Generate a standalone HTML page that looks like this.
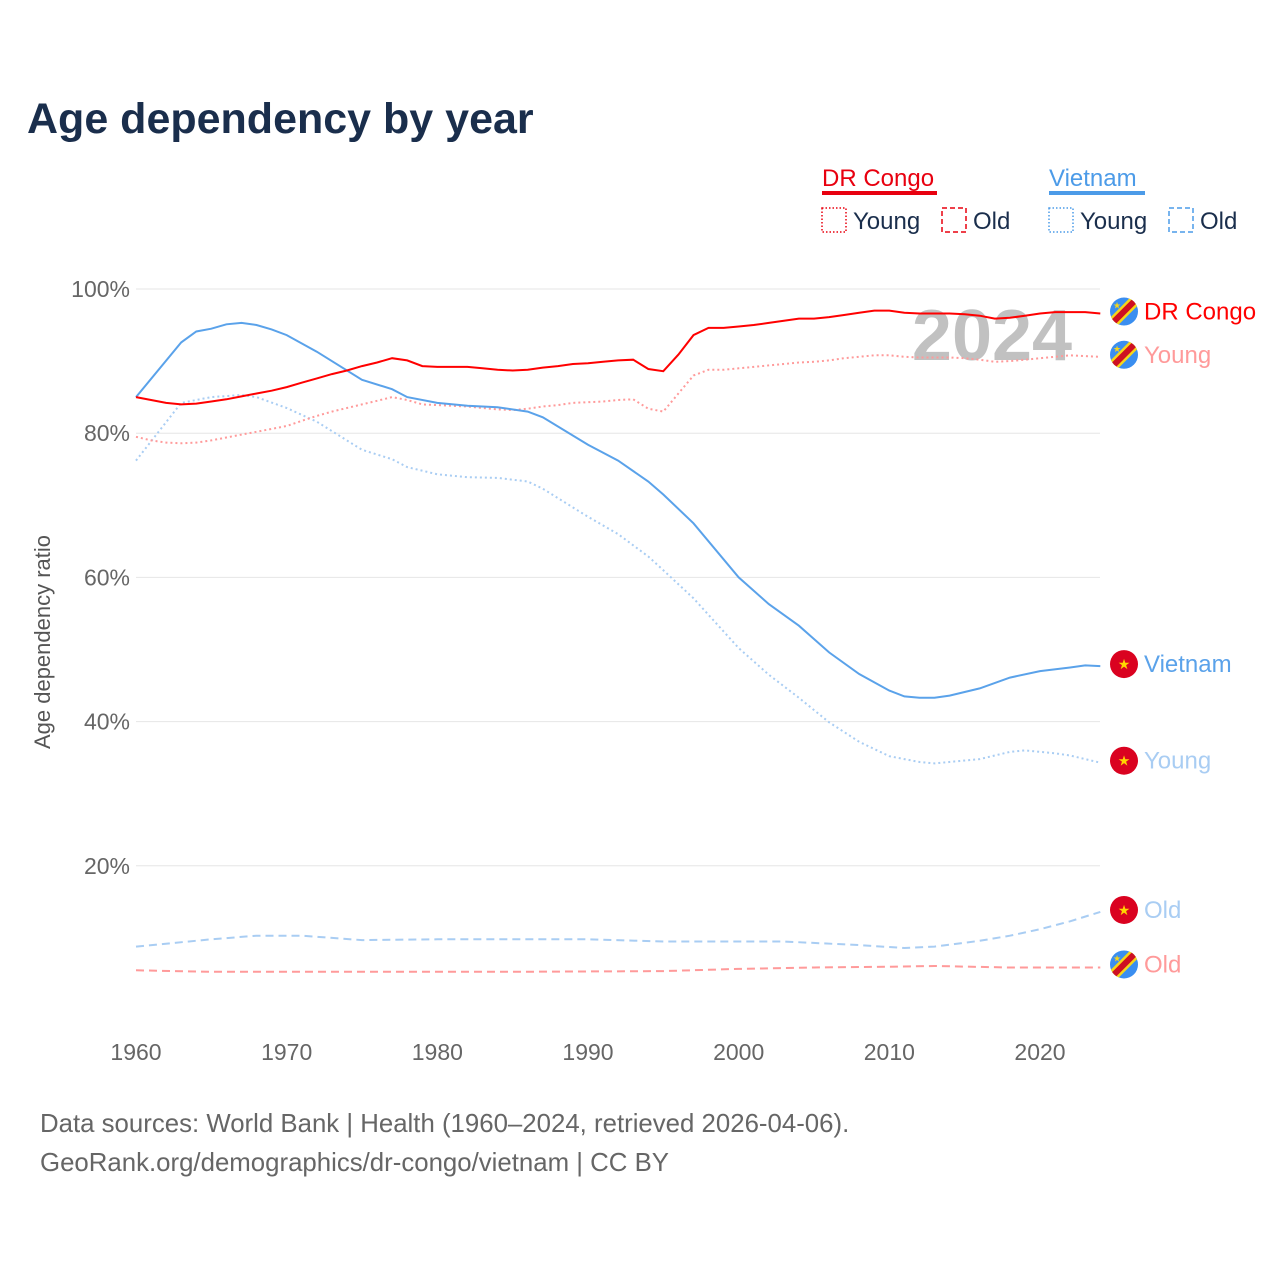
<!DOCTYPE html>
<html><head><meta charset="utf-8"><style>
body{margin:0;background:#fff;}
svg text{font-family:"Liberation Sans",sans-serif;}
</style></head><body>
<svg width="1280" height="1280" viewBox="0 0 1280 1280" xmlns="http://www.w3.org/2000/svg">
<defs>
<clipPath id="cc"><circle cx="0" cy="0" r="14"/></clipPath>
<g id="cdflag">
<g clip-path="url(#cc)">
<rect x="-15" y="-15" width="30" height="30" fill="#3a8ef0"/>
<line x1="-16" y1="16" x2="16" y2="-16" stroke="#f7d618" stroke-width="11"/>
<line x1="-16" y1="16" x2="16" y2="-16" stroke="#ce1021" stroke-width="6"/>
<text x="-7" y="-3" font-size="9" fill="#f7d618" text-anchor="middle">★</text>
</g></g>
<g id="vnflag"><circle r="14" fill="#da0220"/><text x="0" y="5" font-size="14" fill="#ffd500" text-anchor="middle">★</text></g>
</defs>
<text x="27" y="133" font-size="43" font-weight="bold" fill="#1a2e4c">Age dependency by year</text>

<g>
<text x="822" y="186" font-size="24" fill="#e8000f">DR Congo</text>
<rect x="822" y="191" width="115" height="4" fill="#e8000f"/>
<text x="1049" y="186" font-size="24" fill="#4c9be8">Vietnam</text>
<rect x="1049" y="191" width="96" height="4" fill="#4c9be8"/>
<rect x="822" y="208" width="24" height="24" fill="none" stroke="#e8000f" stroke-width="1.5" stroke-dasharray="1.5,2"/>
<text x="853" y="229" font-size="24" fill="#1a2e4c">Young</text>
<rect x="942" y="208" width="24" height="24" fill="none" stroke="#e8000f" stroke-width="1.5" stroke-dasharray="5,3"/>
<text x="973" y="229" font-size="24" fill="#1a2e4c">Old</text>
<rect x="1049" y="208" width="24" height="24" fill="none" stroke="#4c9be8" stroke-width="1.5" stroke-dasharray="1.5,2"/>
<text x="1080" y="229" font-size="24" fill="#1a2e4c">Young</text>
<rect x="1169" y="208" width="24" height="24" fill="none" stroke="#4c9be8" stroke-width="1.5" stroke-dasharray="5,3"/>
<text x="1200" y="229" font-size="24" fill="#1a2e4c">Old</text>
</g>

<g id="grid"></g>
<g id="yticks"></g>
<g id="xticks"></g>
<text transform="translate(50,642) rotate(-90)" font-size="22" fill="#555" text-anchor="middle">Age dependency ratio</text>
<text x="992" y="360" font-size="72" font-weight="bold" fill="#bbb" text-anchor="middle" opacity="0.9">2024</text>
<g id="series"></g>
<g id="labels"></g>

<text x="40" y="1132" font-size="25.8" fill="#666">Data sources: World Bank | Health (1960–2024, retrieved 2026-04-06).</text>
<text x="40" y="1171" font-size="25.8" fill="#666">GeoRank.org/demographics/dr-congo/vietnam | CC BY</text>
</svg>
<script>
const yTickValues=[20,40,60,80,100];
const yTickLabels=["20%","40%","60%","80%","100%"];
const xTickValues=[1960,1970,1980,1990,2000,2010,2020];
const drcYears=[1960,1961,1962,1963,1964,1965,1966,1967,1968,1969,1970,1971,1972,1973,1974,1975,1976,1977,1978,1979,1980,1981,1982,1983,1984,1985,1986,1987,1988,1989,1990,1991,1992,1993,1994,1995,1996,1997,1998,1999,2000,2001,2002,2003,2004,2005,2006,2007,2008,2009,2010,2011,2012,2013,2014,2015,2016,2017,2018,2019,2020,2021,2022,2023,2024];
const drcTotal=[85.0,84.6,84.2,84.0,84.1,84.4,84.7,85.1,85.5,85.9,86.4,87.0,87.6,88.2,88.7,89.3,89.8,90.4,90.1,89.3,89.2,89.2,89.2,89.0,88.8,88.7,88.8,89.1,89.3,89.6,89.7,89.9,90.1,90.2,88.9,88.6,90.9,93.6,94.6,94.6,94.8,95.0,95.3,95.6,95.9,95.9,96.1,96.4,96.7,97.0,97.0,96.7,96.6,96.6,96.6,96.5,96.3,95.9,96.0,96.3,96.6,96.8,96.8,96.8,96.6];
const drcYoung=[79.5,79.0,78.7,78.6,78.7,79.0,79.4,79.8,80.2,80.6,81.0,81.7,82.4,83.0,83.5,84.0,84.5,85.0,84.6,84.0,83.9,83.8,83.7,83.5,83.3,83.2,83.4,83.7,83.9,84.2,84.3,84.4,84.6,84.7,83.4,83.0,85.5,88.0,88.8,88.8,89.0,89.2,89.4,89.6,89.8,89.9,90.1,90.4,90.6,90.8,90.8,90.6,90.5,90.5,90.5,90.4,90.2,89.9,90.0,90.2,90.4,90.6,90.8,90.7,90.6];
const drcOldYears=[1960,1965,1975,1985,1995,2000,2005,2010,2013,2018,2024];
const drcOld=[5.5,5.3,5.3,5.3,5.4,5.7,5.9,6.0,6.1,5.9,5.9];
const vnYears=[1960,1963,1964,1965,1966,1967,1968,1969,1970,1972,1975,1977,1978,1980,1982,1984,1986,1987,1990,1992,1994,1995,1997,2000,2002,2004,2006,2008,2010,2011,2012,2013,2014,2016,2018,2020,2022,2023,2024];
const vnTotal=[85.0,92.6,94.1,94.5,95.1,95.3,95.0,94.4,93.6,91.3,87.4,86.1,85.0,84.2,83.8,83.6,83.0,82.2,78.4,76.2,73.3,71.5,67.5,60.0,56.3,53.3,49.6,46.6,44.3,43.5,43.3,43.3,43.6,44.6,46.1,47.0,47.5,47.8,47.7];
const vnYoungYears=[1960,1963,1965,1967,1968,1970,1972,1975,1977,1978,1980,1982,1984,1986,1987,1990,1992,1994,1995,1997,2000,2002,2004,2006,2008,2010,2012,2013,2016,2018,2019,2021,2022,2024];
const vnYoung=[76.2,84.2,85.0,85.3,85.0,83.5,81.6,77.7,76.4,75.3,74.3,73.9,73.8,73.3,72.3,68.4,66.0,62.9,61.0,57.1,50.2,46.5,43.3,39.9,37.2,35.2,34.4,34.2,34.8,35.8,36.0,35.6,35.3,34.3];
const vnOldYears=[1960,1965,1968,1971,1975,1980,1990,1995,2003,2008,2011,2013,2016,2018,2020,2022,2024];
const vnOld=[8.8,9.8,10.3,10.3,9.7,9.8,9.8,9.5,9.5,9.0,8.6,8.8,9.6,10.3,11.2,12.3,13.6];

const NS="http://www.w3.org/2000/svg";
const xS=y=>136+(y-1960)*(1040-136)/60;
const yS=v=>1010-v*(1010-289)/100;
function mk(tag,attrs,parent){const e=document.createElementNS(NS,tag);for(const k in attrs)e.setAttribute(k,attrs[k]);parent.appendChild(e);return e;}
const grid=document.getElementById('grid'),yt=document.getElementById('yticks'),xt=document.getElementById('xticks');
yTickValues.forEach((v,i)=>{
 const l=mk('line',{x1:136,x2:1100,y1:yS(v),y2:yS(v),stroke:'#e6e6e6','stroke-width':1},grid);
 
 
 const t=mk('text',{x:130,y:yS(v)+8,'font-size':23,fill:'#666','text-anchor':'end'},yt);
 t.textContent=yTickLabels[i];
 
 
});
xTickValues.forEach(v=>{
 const t=mk('text',{x:xS(v),y:1060,'font-size':23,fill:'#666','text-anchor':'middle'},xt);
 t.textContent=v;
 
 
});
const ser=document.getElementById('series');
function line(years,vals,color,dash,name){
 const d=years.map((y,i)=>(i?'L':'M')+xS(y).toFixed(1)+','+yS(vals[i]).toFixed(1)).join('');
 const p=mk('path',{d:d,fill:'none',stroke:color,'stroke-width':2,'stroke-dasharray':dash},ser);
 
 
}
line(vnOldYears,vnOld,'#a9cdf3','8,5','line-vietnam-old');
line(drcOldYears,drcOld,'#ff9a9a','8,5','line-drc-old');
line(vnYoungYears,vnYoung,'#a9cdf3','2,3','line-vietnam-young');
line(drcYears,drcYoung,'#ff9a9a','2,3','line-drc-young');
line(vnYears,vnTotal,'#5aa2ea','none','line-vietnam-total');
line(drcYears,drcTotal,'#f00','none','line-drc-total');
const lab=document.getElementById('labels');
function endLabel(v,flag,text,color,off){
 const y=yS(v);
 const u=mk('use',{href:'#'+flag,x:1124,y:y+(off||0)},lab);
 
 
 const t=mk('text',{x:1144,y:y+(off||0)+8,'font-size':24,fill:color},lab);
 t.textContent=text;
 
 
}
endLabel(drcTotal[drcTotal.length-1],'cdflag','DR Congo','#f00',-2);
endLabel(drcYoung[drcYoung.length-1],'cdflag','Young','#ff9a9a',-2);
endLabel(vnTotal[vnTotal.length-1],'vnflag','Vietnam','#5aa2ea',-2);
endLabel(vnYoung[vnYoung.length-1],'vnflag','Young','#a9cdf3',-2);
endLabel(vnOld[vnOld.length-1],'vnflag','Old','#a9cdf3',-2);
endLabel(drcOld[drcOld.length-1],'cdflag','Old','#ff9a9a',-3);
</script>
</body></html>
